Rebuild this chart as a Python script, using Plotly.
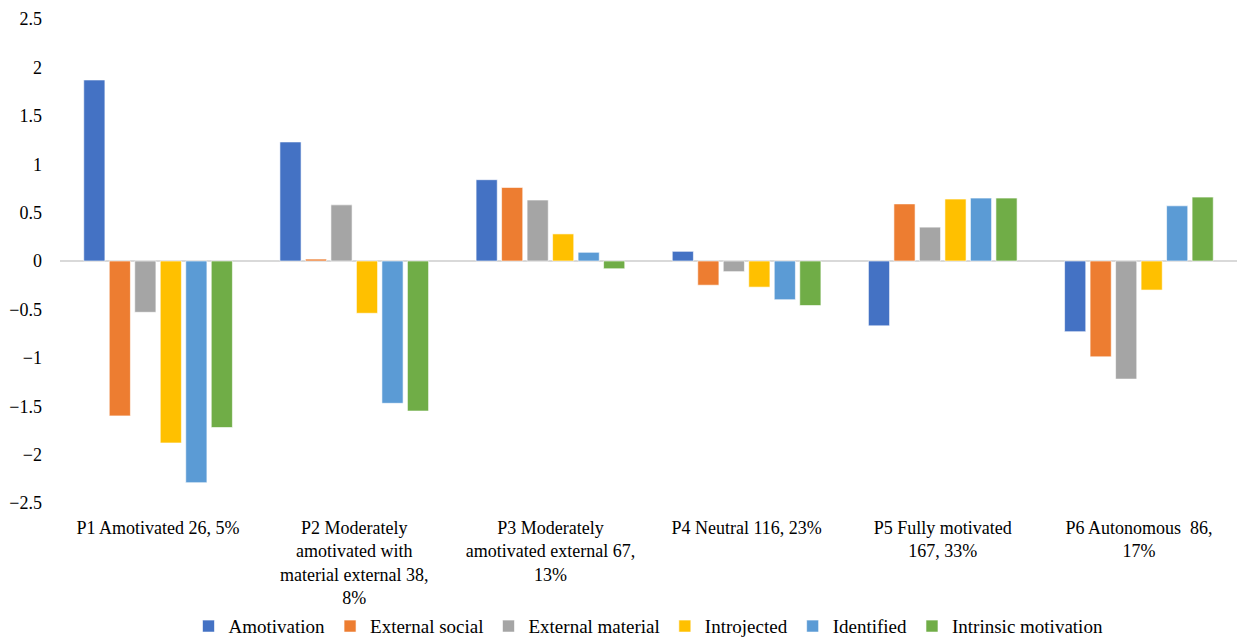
import plotly.graph_objects as go

categories = [
    "P1 Amotivated 26, 5%",
    "P2 Moderately<br>amotivated with<br>material external 38,<br>8%",
    "P3 Moderately<br>amotivated external 67,<br>13%",
    "P4 Neutral 116, 23%",
    "P5 Fully motivated<br>167, 33%",
    "P6 Autonomous  86,<br>17%",
]

amotivation = [1.87, 1.23, 0.84, 0.10, -0.67, -0.73]
external_social = [-1.60, 0.02, 0.76, -0.25, 0.59, -0.99]
external_material = [-0.53, 0.58, 0.63, -0.11, 0.35, -1.22]
introjected = [-1.88, -0.54, 0.28, -0.27, 0.64, -0.30]
identified = [-2.29, -1.47, 0.09, -0.40, 0.65, 0.57]
intrinsic_motivation = [-1.72, -1.55, -0.08, -0.46, 0.65, 0.66]

series = [
    ("Amotivation", amotivation, "#4472C4"),
    ("External social", external_social, "#ED7D31"),
    ("External material", external_material, "#A5A5A5"),
    ("Introjected", introjected, "#FFC000"),
    ("Identified", identified, "#5B9BD5"),
    ("Intrinsic motivation", intrinsic_motivation, "#70AD47"),
]

fig = go.Figure()
for name, values, color in series:
    fig.add_trace(go.Bar(
        x=categories, y=values, name=name,
        marker=dict(color=color, line=dict(color="rgba(255,255,255,0.6)", width=1)),
    ))

font_family = "'Liberation Serif', 'Times New Roman', serif"

fig.update_layout(
    width=1242, height=639,
    margin=dict(l=60, r=5, t=19, b=136),
    paper_bgcolor="white", plot_bgcolor="white",
    barmode="group", bargap=0.22, bargroupgap=0.17,
    font=dict(family=font_family, size=18, color="#000000"),
    showlegend=True,
    legend=dict(
        orientation="h", x=0.5, xanchor="center",
        yref="container", y=0.02, yanchor="middle",
        bgcolor="rgba(0,0,0,0)",
        font=dict(family=font_family, size=19, color="#000000"),
        itemwidth=30, traceorder="normal",
    ),
    xaxis=dict(
        showgrid=False, showline=False, ticks="", tickangle=0,
        tickfont=dict(family=font_family, size=18),
        ticklabelstandoff=12, automargin=False,
    ),
    yaxis=dict(
        range=[-2.5, 2.5], dtick=0.5, showgrid=False, showline=False, ticks="",
        zeroline=True, zerolinecolor="#D9D9D9", zerolinewidth=1.5,
        tickfont=dict(family=font_family, size=18),
        ticklabelstandoff=17, automargin=False,
    ),
)

fig.write_html("out.html")
